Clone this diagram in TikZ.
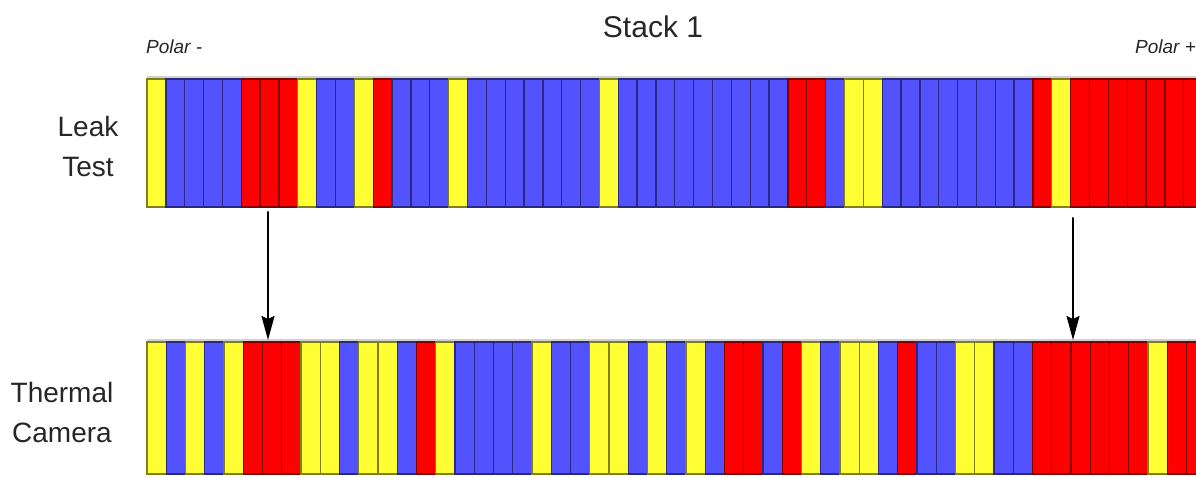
\documentclass[tikz,border=0pt]{standalone}
\usepackage{fontspec}
\setmainfont{Liberation Sans}
\usepackage{tikz}
\usetikzlibrary{arrows.meta}

\definecolor{cellY}{RGB}{255,255,51}
\definecolor{cellB}{RGB}{82,82,255}
\definecolor{cellR}{RGB}{255,0,0}

\begin{document}
\begin{tikzpicture}
		[x=1pt,y=-1pt,line cap=round,
		%Styles
		cell/.style={fill=cell#1,draw=cell#1!50!black,line width=1.3pt},
		shadow line/.style={fill=black!18},
		title/.style={inner sep=0pt,text=black!85,font=\fontsize{30}{36}\selectfont},
		polar/.style={inner sep=0pt,anchor=west,text=black!85,font=\fontsize{19}{22}\selectfont\itshape},
		row label/.style={inner sep=0pt,align=center,text=black!85,font=\fontsize{28}{40}\selectfont},
		important line/.style={line width=2pt,-{Stealth[length=24pt,width=13pt,inset=3pt]}}
		]
		\useasboundingbox (0,0) rectangle (1196,478);
		\clip (0,0) rectangle (1196,478);
		
		%The graphic
		\fill[shadow line] (147,76) rectangle (1196,79);
		\foreach \c [count=\i from 0] in {Y,B,B,B,B,R,R,R,Y,B,B,Y,R,B,B,B,Y,B,B,B,B,B,B,B,Y,B,B,B,B,B,B,B,B,B,R,R,B,Y,Y,B,B,B,B,B,B,B,B,R,Y,R,R,R,R,R,R,R}
			\draw[cell=\c] ({147+\i*18.85},79) rectangle ++(18.85,128);
		
		\fill[shadow line] (147,339) rectangle (1196,342);
		\foreach \c [count=\i from 0] in {Y,B,Y,B,Y,R,R,R,Y,Y,B,Y,Y,B,R,Y,B,B,B,B,Y,B,B,Y,Y,B,Y,B,Y,B,R,R,B,R,Y,B,Y,Y,B,R,B,B,Y,Y,B,B,R,R,R,R,R,R,Y,R,R}
			\draw[cell=\c] ({147+\i*19.25},342) rectangle ++(19.25,132);
		
		\node[title] (stack) at (653,27) {Stack 1};
		\node[polar] (polarneg) at (146,47) {Polar -};
		\node[polar] (polarpos) at (1135,47) {Polar +};
		\node[row label] (leak) at (88,146) {Leak\\Test};
		\node[row label] (thermal) at (62,412) {Thermal\\Camera};
		
		\coordinate (leftFrom) at (268,212);
		\coordinate (leftTo) at (268,340);
		\coordinate (rightFrom) at (1073,218);
		\coordinate (rightTo) at (1073,340);
		\draw[important line] (leftFrom) -- (leftTo);
		\draw[important line] (rightFrom) -- (rightTo);
	\end{tikzpicture}
\end{document}
